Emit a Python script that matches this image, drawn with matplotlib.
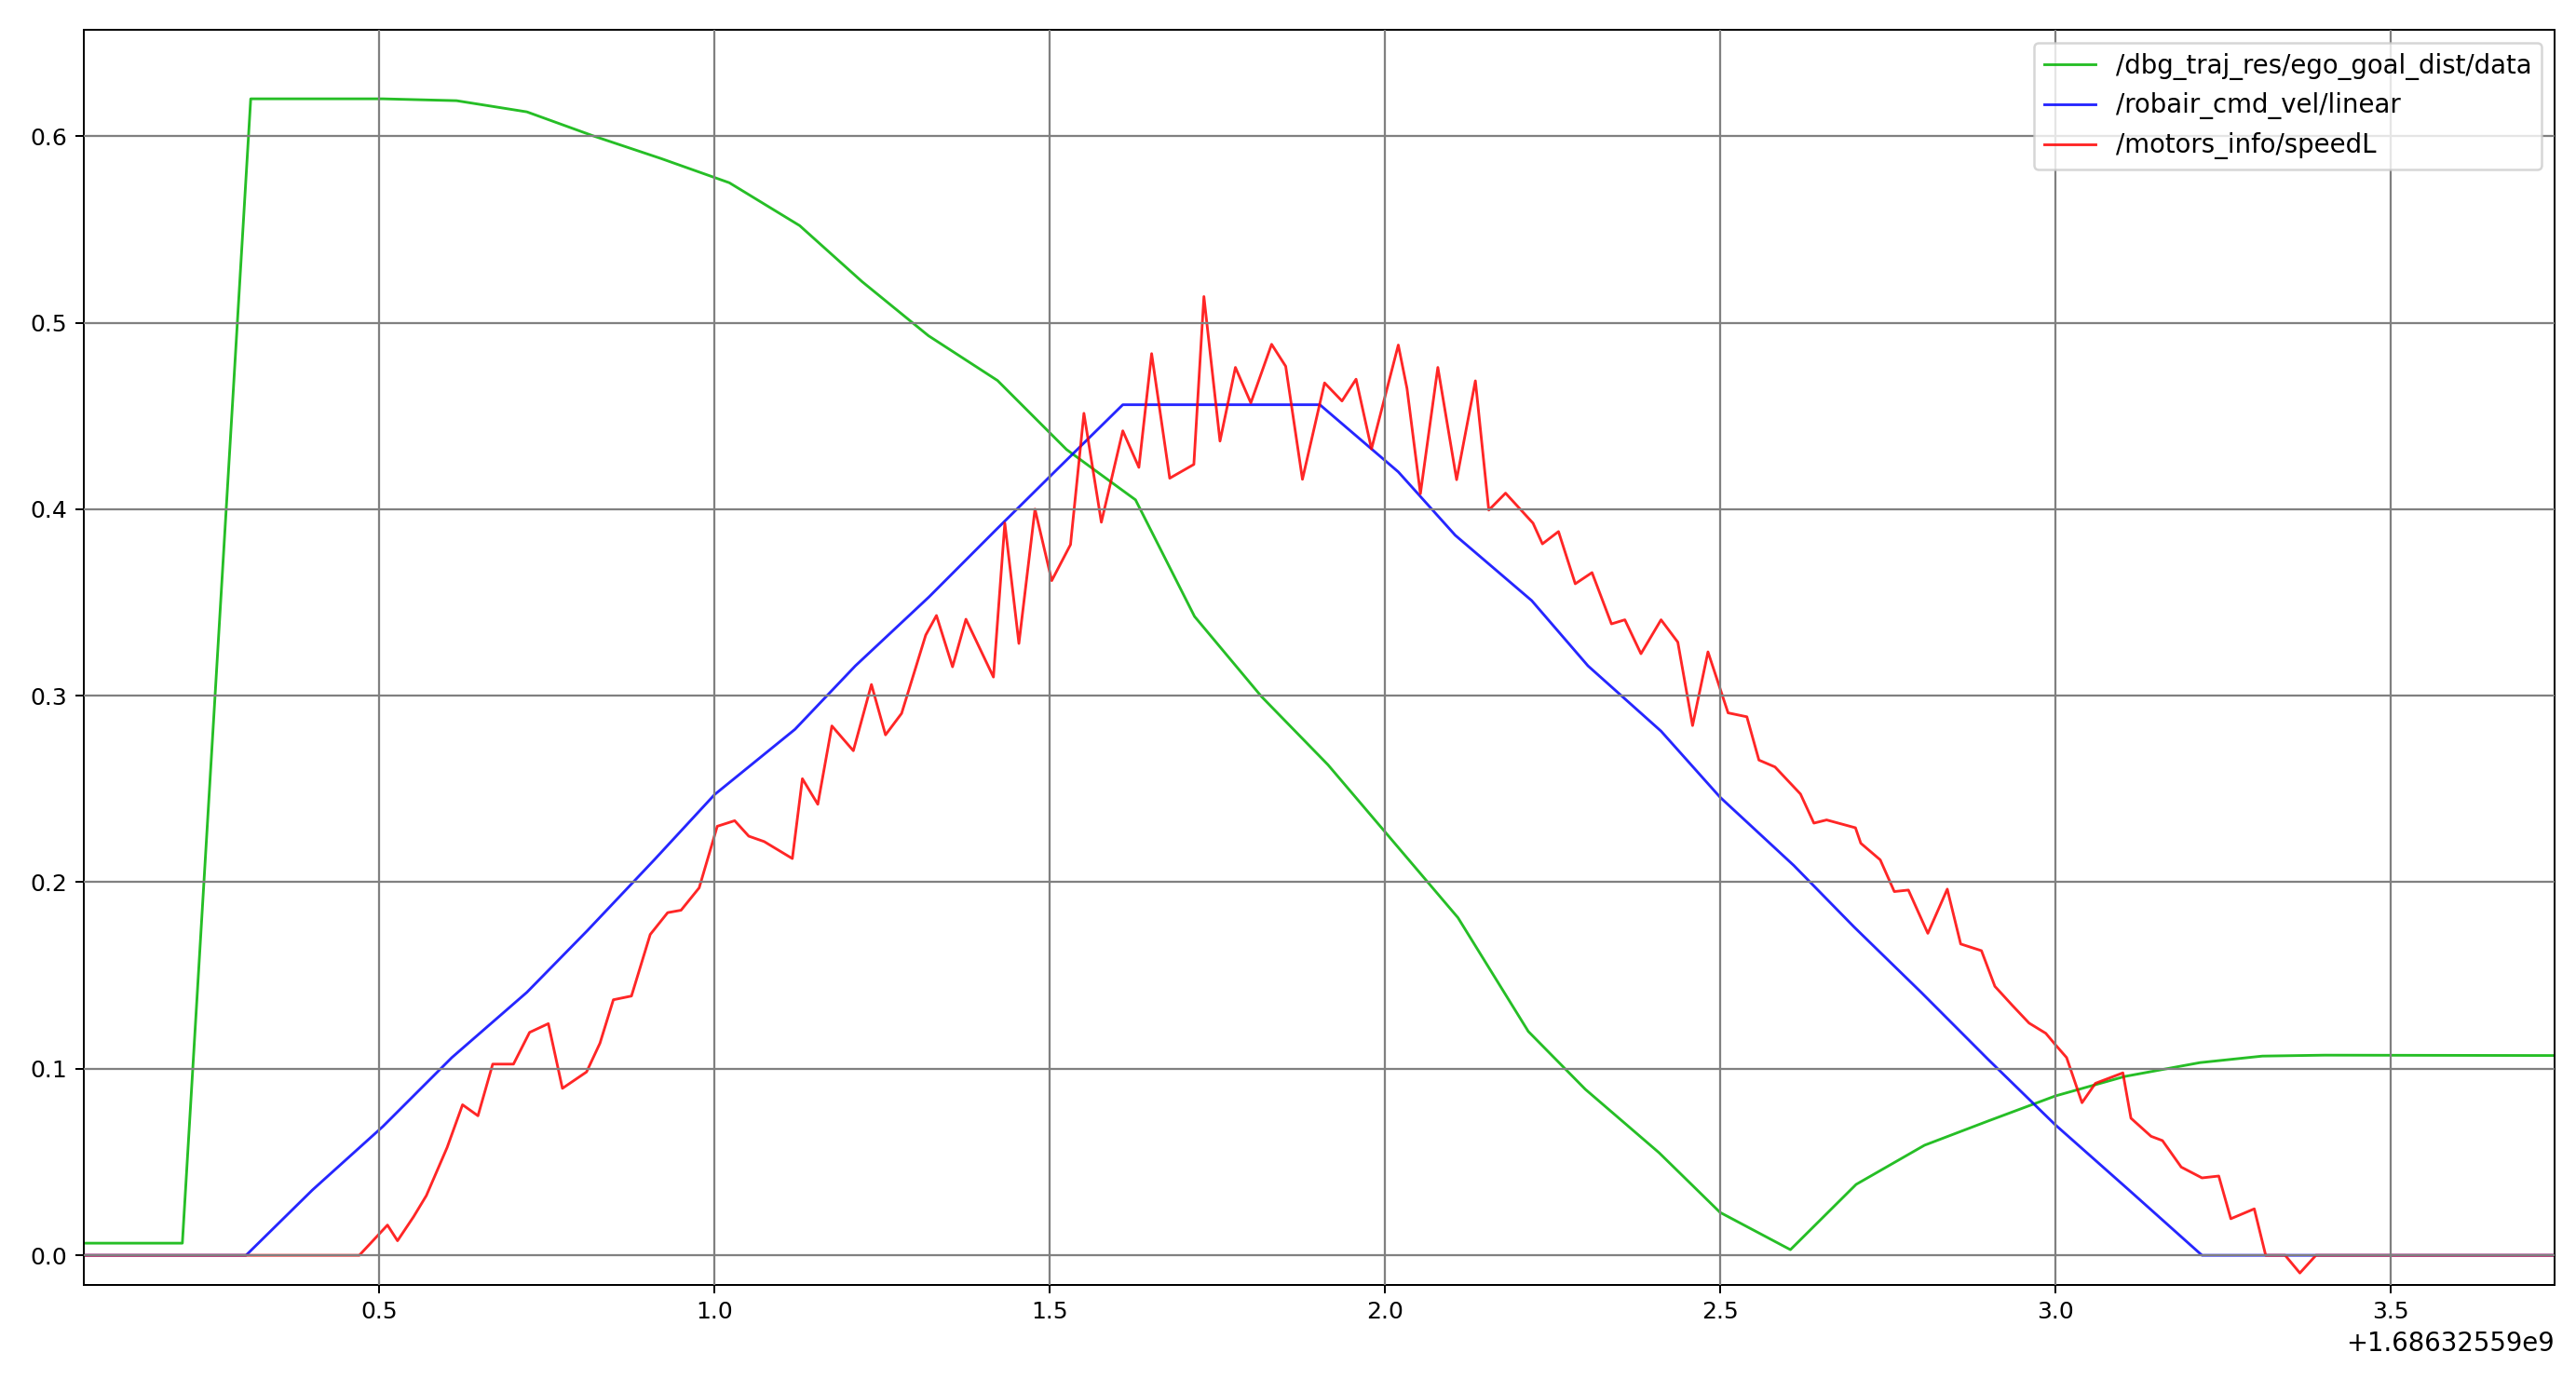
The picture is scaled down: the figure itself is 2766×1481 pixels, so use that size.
import matplotlib
matplotlib.use("Agg")
import matplotlib.pyplot as plt
import numpy as np

T0 = 1686325590.0  # base timestamp (s)

# /dbg_traj_res/ego_goal_dist/data
green_t = [0.059, 0.206, 0.308, 0.505, 0.615, 0.720, 0.820, 0.920, 1.022, 1.127,
           1.220, 1.319, 1.422, 1.525, 1.628, 1.716, 1.816, 1.915, 2.012, 2.109,
           2.214, 2.299, 2.409, 2.500, 2.605, 2.703, 2.805, 2.900, 3.000, 3.104,
           3.216, 3.309, 3.402, 3.745]
green_v = [0.0065, 0.0065, 0.620, 0.620, 0.619, 0.613, 0.600, 0.588, 0.575, 0.552,
           0.522, 0.493, 0.469, 0.432, 0.405, 0.3425, 0.2995, 0.263, 0.222, 0.181,
           0.120, 0.089, 0.055, 0.023, 0.003, 0.038, 0.059, 0.072, 0.0854, 0.0959,
           0.1033, 0.1068, 0.1073, 0.1071]

# /robair_cmd_vel/linear
blue_t = [0.059, 0.301, 0.400, 0.505, 0.608, 0.720, 0.810, 0.910, 1.000, 1.120,
          1.210, 1.320, 1.420, 1.510, 1.609, 1.903, 2.020, 2.105, 2.219, 2.303,
          2.412, 2.500, 2.610, 2.700, 2.800, 2.900, 3.000, 3.110, 3.219, 3.745]
blue_v = [0.0, 0.0, 0.035, 0.069, 0.106, 0.141, 0.174, 0.212, 0.247, 0.282,
          0.316, 0.353, 0.389, 0.421, 0.456, 0.456, 0.420, 0.386, 0.351, 0.316,
          0.281, 0.2456, 0.209, 0.176, 0.141, 0.105, 0.070, 0.035, 0.0, 0.0]

# /motors_info/speedL
red_t = [0.059, 0.470, 0.512, 0.527, 0.551, 0.570, 0.601, 0.624, 0.647, 0.669,
         0.700, 0.724, 0.752, 0.773, 0.809, 0.829, 0.849, 0.876, 0.904, 0.930,
         0.950, 0.977, 1.004, 1.030, 1.051, 1.074, 1.116, 1.131, 1.154, 1.175,
         1.207, 1.234, 1.255, 1.279, 1.315, 1.331, 1.355, 1.375, 1.416, 1.433,
         1.454, 1.478, 1.503, 1.531, 1.551, 1.577, 1.609, 1.633, 1.652, 1.679,
         1.715, 1.730, 1.754, 1.777, 1.800, 1.831, 1.852, 1.877, 1.910, 1.936,
         1.957, 1.980, 2.020, 2.033, 2.053, 2.079, 2.107, 2.135, 2.155, 2.180,
         2.221, 2.235, 2.259, 2.284, 2.309, 2.338, 2.358, 2.382, 2.412, 2.437,
         2.459, 2.482, 2.512, 2.540, 2.558, 2.582, 2.620, 2.640, 2.659, 2.702,
         2.710, 2.739, 2.760, 2.781, 2.810, 2.839, 2.859, 2.890, 2.910, 2.936,
         2.961, 2.986, 3.000, 3.017, 3.040, 3.060, 3.101, 3.113, 3.143, 3.160,
         3.188, 3.219, 3.244, 3.262, 3.297, 3.314, 3.343, 3.365, 3.389, 3.745]
red_v = [0.0, 0.0, 0.0162, 0.0078, 0.0207, 0.032, 0.0578, 0.0807, 0.0748, 0.1025,
         0.1025, 0.1195, 0.1242, 0.0895, 0.0983, 0.1137, 0.137, 0.139, 0.172, 0.1837,
         0.185, 0.197, 0.230, 0.233, 0.2247, 0.2218, 0.2127, 0.2555, 0.2418, 0.2838,
         0.2705, 0.306, 0.279, 0.2905, 0.3325, 0.343, 0.3155, 0.341, 0.310, 0.3925,
         0.328, 0.400, 0.3617, 0.381, 0.4514, 0.393, 0.442, 0.4224, 0.4834, 0.4166,
         0.424, 0.514, 0.4365, 0.476, 0.457, 0.4884, 0.4766, 0.416, 0.4677, 0.458,
         0.4697, 0.4323, 0.488, 0.4647, 0.4083, 0.476, 0.4158, 0.4688, 0.3995, 0.4086,
         0.3925, 0.3814, 0.388, 0.3600, 0.366, 0.3385, 0.3407, 0.3225, 0.3407, 0.3287,
         0.284, 0.3235, 0.2908, 0.2887, 0.2655, 0.2618, 0.2473, 0.2317, 0.2334, 0.2292,
         0.2209, 0.212, 0.195, 0.1958, 0.1726, 0.1963, 0.1669, 0.1633, 0.1442, 0.134,
         0.1245, 0.119, 0.113, 0.106, 0.0818, 0.0922, 0.0978, 0.0735, 0.0638, 0.0615,
         0.0473, 0.0415, 0.0425, 0.0196, 0.0249, 0.0, 0.0, -0.0095, 0.0, 0.0]

labels = ["/dbg_traj_res/ego_goal_dist/data", "/robair_cmd_vel/linear", "/motors_info/speedL"]

plt.rcParams['font.family'] = ['DejaVu Sans']
plt.rcParams['font.size'] = 11

fig = plt.figure(figsize=(2766 / 180, 1481 / 180), dpi=180)
ax = fig.add_axes([90 / 2766, 1 - 1380 / 1481, (2743 - 90) / 2766, (1380 - 32) / 1481])

lw = 1.15
ax.plot(np.array(green_t) + T0, green_v, color=(0.0, 0.7, 0.0), alpha=0.85, lw=lw, label=labels[0])
ax.plot(np.array(blue_t) + T0, blue_v, color=(0.0, 0.0, 1.0), alpha=0.85, lw=lw, label=labels[1])
ax.plot(np.array(red_t) + T0, red_v, color=(1.0, 0.0, 0.0), alpha=0.85, lw=lw, label=labels[2])

ax.set_xlim(T0 + 0.059, T0 + 3.745)
ax.set_ylim(-0.0159, 0.657)
ax.set_xticks(T0 + np.array([0.5, 1.0, 1.5, 2.0, 2.5, 3.0, 3.5]))
ax.set_yticks([0.0, 0.1, 0.2, 0.3, 0.4, 0.5, 0.6])
ax.tick_params(labelsize=10)
ax.xaxis.get_offset_text().set_fontsize(11)
ax.grid(True, color='#808080', lw=0.9)
ax.set_axisbelow(False)
ax.legend(loc='upper right', fontsize=11)

fig.savefig("out.png", dpi=180)
